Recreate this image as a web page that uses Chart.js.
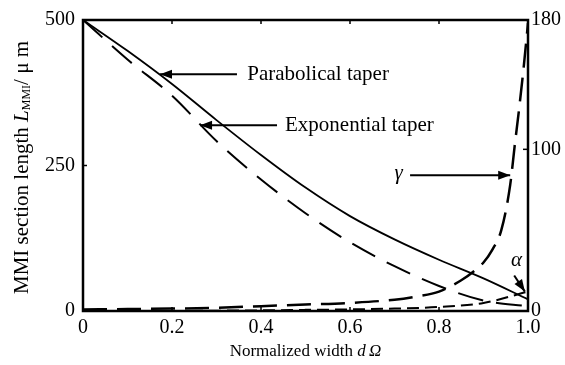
<!DOCTYPE html>
<html>
<head>
<meta charset="utf-8">
<script src="https://cdn.jsdelivr.net/npm/chart.js@4"></script>
<style>
  html, body { margin: 0; padding: 0; background: #fff; }
  #wrap { width: 565px; height: 365px; }
</style>
</head>
<body>
<div id="wrap"><canvas id="myChart" width="565" height="365"></canvas></div>
<script>
// normalized width samples
const widthSteps = [0, 0.1, 0.2, 0.3, 0.4, 0.5, 0.6, 0.7, 0.8, 0.9, 1.0];
// MMI section length (um), left axis
const parabolicLen = [500, 447, 390, 328, 268, 212, 163, 123, 88, 56, 20];
const exponentialLen = [500, 432, 370, 292, 226, 168, 118, 77, 43, 18, 8];
// angles (deg), right axis
const gammaWidth = [0, 0.1, 0.2, 0.3, 0.4, 0.5, 0.6, 0.7, 0.75, 0.8, 0.85, 0.88, 0.9, 0.92, 0.94, 0.96, 0.97, 0.98, 0.99, 1.0];
const gammaAngle = [1, 1.2, 1.5, 2, 3, 4, 5, 7, 9, 12, 19, 25, 30, 38, 50, 78, 102, 125, 150, 178];
const alphaAngle = [0, 0, 0, 0.2, 0.4, 0.7, 1, 1.5, 2.5, 5, 12];

const xTicks = [0, 0.2, 0.4, 0.6, 0.8, 1.0];
const leftTicks = [0, 250, 500];
const rightTicks = [0, 100, 180];

const serif = '"Liberation Serif", "DejaVu Serif", serif';

const toPts = (xs, ys) => xs.map((x, i) => ({ x: x, y: ys[i] }));

// labels with arrows, placed in data units
const notes = [
  { text: 'Parabolical taper', axis: 'y', tx: 0.369, ty: 407, from: [0.346, 407], to: [0.173, 407] },
  { text: 'Exponential taper', axis: 'y', tx: 0.454, ty: 319, from: [0.436, 319], to: [0.263, 319] },
  { text: 'γ', italic: true, axis: 'y1', tx: 0.70, ty: 85, from: [0.735, 84], to: [0.96, 84] },
  { text: 'α', italic: true, axis: 'y1', tx: 0.962, ty: 31, from: [0.969, 22], to: [0.993, 12] }
];

function arrow(ctx, x1, y1, x2, y2) {
  const a = Math.atan2(y2 - y1, x2 - x1);
  ctx.beginPath();
  ctx.moveTo(x1, y1);
  ctx.lineTo(x2, y2);
  ctx.stroke();
  ctx.beginPath();
  ctx.moveTo(x2, y2);
  ctx.lineTo(x2 - 12 * Math.cos(a) + 4.5 * Math.sin(a), y2 - 12 * Math.sin(a) - 4.5 * Math.cos(a));
  ctx.lineTo(x2 - 12 * Math.cos(a) - 4.5 * Math.sin(a), y2 - 12 * Math.sin(a) + 4.5 * Math.cos(a));
  ctx.closePath();
  ctx.fill();
}

const extras = {
  id: 'extras',
  afterDatasetsDraw(chart) {
    const ctx = chart.ctx;
    const { left, right, top, bottom } = chart.chartArea;
    const sx = chart.scales.x;
    ctx.save();
    ctx.strokeStyle = '#000';
    ctx.fillStyle = '#000';

    // frame
    ctx.lineWidth = 2.5;
    ctx.strokeRect(left, top, right - left, bottom - top);

    // inward ticks
    ctx.lineWidth = 1.5;
    xTicks.forEach(v => {
      const px = sx.getPixelForValue(v);
      ctx.beginPath(); ctx.moveTo(px, top); ctx.lineTo(px, top + 4); ctx.stroke();
      ctx.beginPath(); ctx.moveTo(px, bottom); ctx.lineTo(px, bottom - 4); ctx.stroke();
    });
    leftTicks.forEach(v => {
      const py = chart.scales.y.getPixelForValue(v);
      ctx.beginPath(); ctx.moveTo(left, py); ctx.lineTo(left + 4, py); ctx.stroke();
    });
    rightTicks.forEach(v => {
      const py = chart.scales.y1.getPixelForValue(v);
      ctx.beginPath(); ctx.moveTo(right, py); ctx.lineTo(right - 5, py); ctx.stroke();
    });

    // annotations
    ctx.lineWidth = 2;
    ctx.textBaseline = 'middle';
    ctx.textAlign = 'left';
    notes.forEach(n => {
      const sy = chart.scales[n.axis];
      ctx.font = (n.italic ? 'italic ' : '') + '21px ' + serif;
      ctx.fillText(n.text, sx.getPixelForValue(n.tx), sy.getPixelForValue(n.ty));
      arrow(ctx, sx.getPixelForValue(n.from[0]), sy.getPixelForValue(n.from[1]),
        sx.getPixelForValue(n.to[0]), sy.getPixelForValue(n.to[1]));
    });

    // x axis title
    const xt = [['Normalized width ', ''], ['d\u2009', 'italic '], ['Ω', 'italic ']];
    let w = 0;
    xt.forEach(p => { ctx.font = p[1] + '17px ' + serif; w += ctx.measureText(p[0]).width; });
    let cx = (left + right) / 2 - w / 2;
    xt.forEach(p => {
      ctx.font = p[1] + '17px ' + serif;
      ctx.fillText(p[0], cx, 352);
      cx += ctx.measureText(p[0]).width;
    });

    // y axis title, rotated, with subscript
    const yt = [
      ['MMI section length ', '', 21, 0],
      ['L', 'italic ', 21, 0],
      ['MMI', '', 12, 5],
      ['/ μ m', '', 21, 0]
    ];
    ctx.translate(22, (top + bottom) / 2 + 2);
    ctx.rotate(-Math.PI / 2);
    w = 0;
    yt.forEach(p => { ctx.font = p[1] + p[2] + 'px ' + serif; w += ctx.measureText(p[0]).width; });
    cx = -w / 2;
    yt.forEach(p => {
      ctx.font = p[1] + p[2] + 'px ' + serif;
      ctx.fillText(p[0], cx, p[3]);
      cx += ctx.measureText(p[0]).width;
    });
    ctx.restore();
  }
};

const ctx = document.getElementById('myChart').getContext('2d');
const chart = new Chart(ctx, {
  type: 'line',
  data: {
    datasets: [
      {
        label: 'Parabolical taper',
        data: toPts(widthSteps, parabolicLen),
        borderColor: '#000', borderWidth: 1.8,
        pointRadius: 0, cubicInterpolationMode: 'monotone',
        yAxisID: 'y'
      },
      {
        label: 'Exponential taper',
        data: toPts(widthSteps, exponentialLen),
        borderColor: '#000', borderWidth: 2, borderDash: [26, 13],
        pointRadius: 0, cubicInterpolationMode: 'monotone',
        yAxisID: 'y'
      },
      {
        label: 'γ',
        data: toPts(gammaWidth, gammaAngle),
        borderColor: '#000', borderWidth: 2.5, borderDash: [24, 10],
        pointRadius: 0, cubicInterpolationMode: 'monotone',
        yAxisID: 'y1'
      },
      {
        label: 'α',
        data: toPts(widthSteps, alphaAngle),
        borderColor: '#000', borderWidth: 2, borderDash: [12, 6],
        pointRadius: 0, cubicInterpolationMode: 'monotone',
        yAxisID: 'y1'
      }
    ]
  },
  options: {
    responsive: false,
    animation: false,
    layout: { padding: { top: 16 } },
    plugins: { legend: { display: false }, tooltip: { enabled: false } },
    scales: {
      x: {
        type: 'linear', min: 0, max: 1,
        grid: { display: false, drawTicks: false },
        border: { display: false },
        afterBuildTicks: s => { s.ticks = xTicks.map(v => ({ value: v })); },
        afterFit: s => { s.height = 54; },
        ticks: {
          color: '#000', padding: 5, maxRotation: 0,
          font: { family: serif, size: 20 },
          callback: v => (v === 0 ? '0' : v.toFixed(1))
        }
      },
      y: {
        position: 'left', min: 0, max: 500,
        grid: { display: false, drawTicks: false },
        border: { display: false },
        afterBuildTicks: s => { s.ticks = leftTicks.map(v => ({ value: v })); },
        afterFit: s => { s.width = 83; },
        ticks: { color: '#000', padding: 8, font: { family: serif, size: 20 } }
      },
      y1: {
        position: 'right', min: 0, max: 180,
        grid: { display: false, drawTicks: false },
        border: { display: false },
        afterBuildTicks: s => { s.ticks = rightTicks.map(v => ({ value: v })); },
        afterFit: s => { s.width = 37; },
        ticks: { color: '#000', padding: 3, font: { family: serif, size: 20 } }
      }
    }
  },
  plugins: [extras]
});
</script>
</body>
</html>
